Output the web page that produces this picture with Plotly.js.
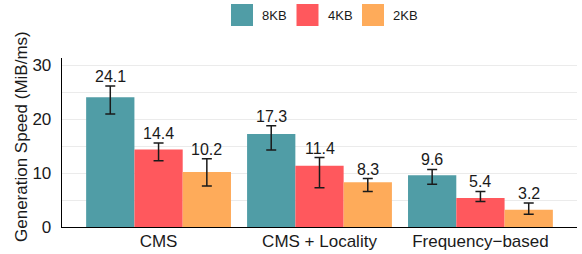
<!DOCTYPE html>
<html>
<head>
<meta charset="utf-8">
<script src="https://cdn.plot.ly/plotly-3.0.1.min.js"></script>
<style>
  html, body { margin: 0; padding: 0; background: #fff; }
  #chart { width: 582px; height: 254px; }
</style>
</head>
<body>
<div id="chart"></div>
<script>
// ---- data ----
const categories = ['CMS', 'CMS + Locality', 'Frequency\u2212based'];
const seriesNames = ['8KB', '4KB', '2KB'];
const values8KB = [24.1, 17.3, 9.6];
const values4KB = [14.4, 11.4, 5.4];
const values2KB = [10.2, 8.3, 3.2];
const errPlus8KB = [2.1, 1.5, 1.1];
const errMinus8KB = [3.1, 3.0, 1.65];
const errPlus4KB = [1.2, 1.5, 1.2];
const errMinus4KB = [2.1, 4.1, 0.65];
const errPlus2KB = [2.5, 0.7, 1.25];
const errMinus2KB = [2.6, 1.7, 0.85];
const yTickVals = [0, 10, 20, 30];
const yTitle = 'Generation Speed (MiB/ms)';

// ---- styling ----
const colors = ['#509DA6', '#FF585D', '#FEAB5A'];
const FONT = 'Liberation Sans, Arial, Helvetica, sans-serif';
const allValues = [values8KB, values4KB, values2KB];
const allPlus = [errPlus8KB, errPlus4KB, errPlus2KB];
const allMinus = [errMinus8KB, errMinus4KB, errMinus2KB];
const xIdx = categories.map((c, i) => i);

const M = { l: 62, r: 5, t: 58, b: 27 };
const W = 582, H = 254;
const pw = W - M.l - M.r, ph = H - M.t - M.b;
const px2x = p => (p - M.l) / pw;
const px2y = p => (H - M.b - p) / ph;

const traces = seriesNames.map((name, j) => ({
  type: 'bar',
  name: name,
  x: xIdx,
  y: allValues[j],
  marker: { color: colors[j], line: { width: 0 } },
  error_y: {
    type: 'data', symmetric: false,
    array: allPlus[j], arrayminus: allMinus[j],
    color: '#1a1a1a', thickness: 1.5, width: 5
  },
  showlegend: false,
  hoverinfo: 'skip'
}));

const annotations = [];
const barW = 0.9 / seriesNames.length;
seriesNames.forEach((name, j) => {
  allValues[j].forEach((v, i) => {
    annotations.push({
      x: i + (j - (seriesNames.length - 1) / 2) * barW,
      y: v + allPlus[j][i],
      xref: 'x', yref: 'y',
      text: v.toFixed(1),
      showarrow: false,
      yanchor: 'bottom',
      yshift: -1,
      font: { family: FONT, size: 16, color: '#1a1a1a' }
    });
  });
});

// y-axis title
annotations.push({
  xref: 'paper', yref: 'paper',
  x: px2x(21), y: px2y(137),
  xanchor: 'center', yanchor: 'middle',
  textangle: -90, text: yTitle, showarrow: false,
  font: { family: FONT, size: 17, color: '#1a1a1a' }
});

// manual legend (top centre)
const shapes = [];
seriesNames.forEach((name, j) => {
  const sx = 231 + j * 65.5;
  shapes.push({
    type: 'rect', xref: 'paper', yref: 'paper',
    x0: px2x(sx), x1: px2x(sx + 22), y0: px2y(26), y1: px2y(4),
    fillcolor: colors[j], line: { width: 0 }
  });
  annotations.push({
    xref: 'paper', yref: 'paper',
    x: px2x(sx + 29), y: px2y(15),
    xanchor: 'left', yanchor: 'middle',
    text: name, showarrow: false,
    font: { family: FONT, size: 13, color: '#1a1a1a' }
  });
});

const layout = {
  width: W, height: H,
  margin: M,
  paper_bgcolor: '#ffffff',
  plot_bgcolor: '#ffffff',
  barmode: 'group',
  bargap: 0.1,
  bargroupgap: 0,
  showlegend: false,
  font: { family: FONT, color: '#1a1a1a' },
  xaxis: {
    range: [-0.6, 2.6],
    tickvals: xIdx,
    ticktext: categories,
    showgrid: false,
    zeroline: false,
    showline: true, linecolor: '#000', linewidth: 1.3,
    ticks: '',
    ticklabelstandoff: -2,
    tickfont: { family: FONT, size: 17, color: '#1a1a1a' },
    automargin: false,
    fixedrange: true
  },
  yaxis: {
    range: [0, 31.4],
    tickvals: yTickVals,
    showgrid: false,
    zeroline: false,
    showline: true, linecolor: '#000', linewidth: 1.3,
    ticks: '',
    ticklabelstandoff: 6,
    tickfont: { family: FONT, size: 17, color: '#1a1a1a' },
    minor: { dtick: 5, tick0: 0, showgrid: true, gridcolor: '#EBEBEB', gridwidth: 1, ticks: '' },
    automargin: false,
    fixedrange: true
  },
  shapes: shapes,
  annotations: annotations
};

Plotly.newPlot('chart', traces, layout, { displayModeBar: false, staticPlot: true });
</script>
</body>
</html>
